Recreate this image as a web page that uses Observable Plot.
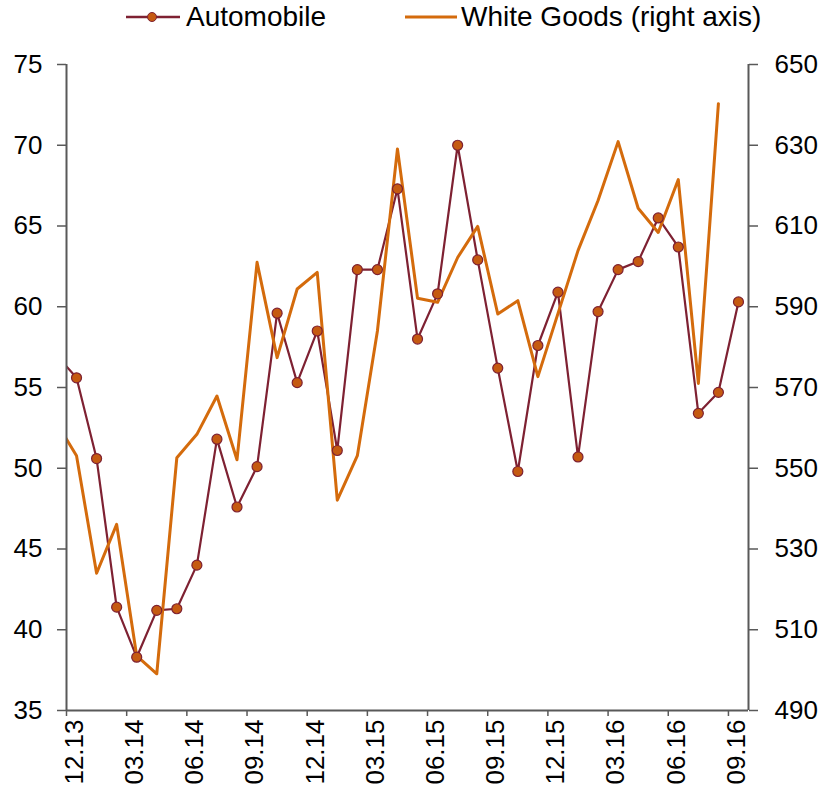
<!DOCTYPE html>
<html>
<head>
<meta charset="utf-8">
<script src="https://cdn.jsdelivr.net/npm/d3@7"></script>
<script src="https://cdn.jsdelivr.net/npm/@observablehq/plot@0.6"></script>
<style>
  html, body { margin: 0; padding: 0; background: #fff; }
  #wrap { width: 821px; font-family: "Liberation Sans", Arial, sans-serif; }
  #legend { position: relative; height: 36px; font-size: 28px; color: #000; }
  #legend .item { position: absolute; top: 0; height: 36px; display: flex; align-items: center; }
  #legend svg { display: block; }
  #legend span { position: absolute; top: 2px; white-space: nowrap; line-height: 30px; }
</style>
</head>
<body>
<div id="wrap">
  <div id="legend"></div>
  <div id="chart"></div>
</div>
<script>
// Months (first one, 11.13, lies just left of the visible axis and is clipped)
const months = ["11.13","12.13","01.14","02.14","03.14","04.14","05.14","06.14","07.14","08.14","09.14","10.14","11.14",
  "12.14","01.15","02.15","03.15","04.15","05.15","06.15","07.15","08.15","09.15","10.15","11.15",
  "12.15","01.16","02.16","03.16","04.16","05.16","06.16","07.16","08.16","09.16"];

// Automobile (left axis)
const automobile = [57.0, 55.6, 50.6, 41.4, 38.3, 41.2, 41.3, 44.0, 51.8, 47.6, 50.1, 59.6, 55.3,
  58.5, 51.1, 62.3, 62.3, 67.3, 58.0, 60.8, 70.0, 62.9, 56.2, 49.8, 57.6,
  60.9, 50.7, 59.7, 62.3, 62.8, 65.5, 63.7, 53.4, 54.7, 60.3];

// White Goods (right axis); no value for 09.16
const whiteGoods = [561.3, 553.1, 524.0, 536.1, 503.5, 499.1, 552.6, 558.4, 567.9, 552.1, 601.0, 577.4, 594.4,
  598.5, 542.1, 553.1, 584.0, 629.1, 592.1, 591.1, 602.2, 609.9, 588.2, 591.5, 572.7,
  588.3, 603.9, 616.3, 630.9, 614.4, 608.4, 621.5, 571.0, 640.3, null];

const leftTicks = [35, 40, 45, 50, 55, 60, 65, 70, 75];
const labelEvery = 3;

const colAuto = "#7E2132";
const colMarker = "#C55A11";
const colWhite = "#D46B0C";
const axisCol = "#595959";

// right axis 490..650 maps onto left axis 35..75
const toLeft = v => (v - 350) / 4;
const toRight = v => v * 4 + 350;

const autoData = months.map((m, i) => ({m, x: i - 0.5, y: automobile[i]}));
const whiteData = months.map((m, i) => ({m, x: i - 0.5, y: whiteGoods[i] == null ? null : toLeft(whiteGoods[i])}));

const nCat = months.length - 1;
const boundaryTicks = d3.range(0, nCat, labelEvery);
const labelTicks = boundaryTicks.map(t => t + 0.5);

// Legend
const legend = document.getElementById("legend");
legend.innerHTML = `
  <div class="item" style="left:126px"><svg width="54" height="36">
    <line x1="0" x2="54" y1="17" y2="17" stroke="${colAuto}" stroke-width="2.5"/>
    <circle cx="26" cy="17" r="4.5" fill="${colMarker}" stroke="${colAuto}" stroke-width="1"/></svg></div>
  <span style="left:186px">Automobile</span>
  <div class="item" style="left:405px"><svg width="52" height="36">
    <line x1="0" x2="52" y1="17" y2="17" stroke="${colWhite}" stroke-width="3"/></svg></div>
  <span style="left:461px">White Goods (right axis)</span>`;

const chart = Plot.plot({
  width: 821,
  height: 760,
  marginTop: 28,
  marginBottom: 86,
  marginLeft: 66,
  marginRight: 73,
  style: {fontFamily: "'Liberation Sans', Arial, sans-serif", fontSize: "26px", color: "#000", background: "#fff"},
  x: {domain: [0, nCat], axis: null},
  y: {domain: [35, 75], axis: null},
  marks: [
    Plot.line(autoData, {x: "x", y: "y", stroke: colAuto, strokeWidth: 2.2, clip: true}),
    Plot.line(whiteData, {x: "x", y: "y", stroke: colWhite, strokeWidth: 3, clip: true}),
    Plot.dot(autoData, {x: "x", y: "y", r: 5, fill: colMarker, stroke: colAuto, strokeWidth: 1.2, clip: true}),
    Plot.ruleX([0, nCat], {stroke: axisCol, strokeWidth: 2}),
    Plot.ruleY([35], {stroke: axisCol, strokeWidth: 2}),
    Plot.axisY({anchor: "left", ticks: leftTicks, tickSize: 9, tickPadding: 15, stroke: axisCol, strokeWidth: 1.5, fill: "#000", label: null}),
    Plot.axisY({anchor: "right", ticks: leftTicks, tickFormat: d => String(toRight(d)), tickSize: 9, tickPadding: 17, stroke: axisCol, strokeWidth: 1.5, fill: "#000", label: null}),
    Plot.axisX({anchor: "bottom", ticks: boundaryTicks, tickFormat: () => "", tickSize: 6, stroke: axisCol, strokeWidth: 1.5, label: null}),
    Plot.axisX({anchor: "bottom", ticks: labelTicks, tickFormat: t => months[t + 0.5], tickSize: 0, tickPadding: 9, tickRotate: -90, dx: -2, fill: "#000", label: null})
  ]
});
document.getElementById("chart").appendChild(chart);
</script>
</body>
</html>
